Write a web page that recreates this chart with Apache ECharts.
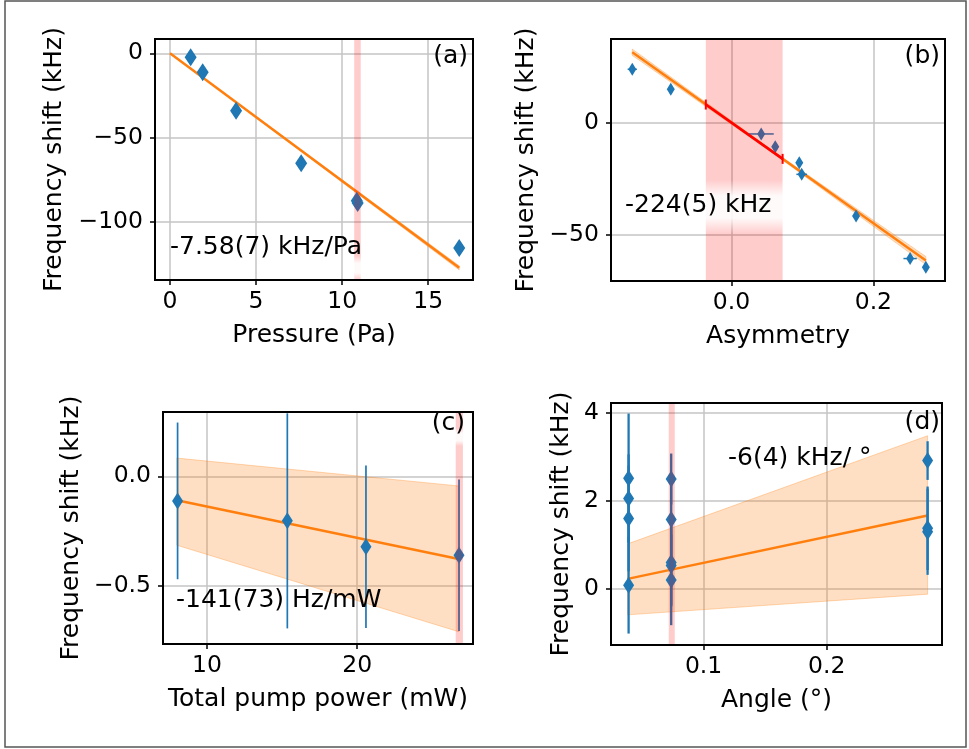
<!DOCTYPE html>
<html>
<head>
<meta charset="utf-8">
<script src="https://cdn.jsdelivr.net/npm/echarts@6/dist/echarts.min.js"></script>
<style>
html, body { margin: 0; padding: 0; background: #fff; }
#chart { width: 969px; height: 749px; }
</style>
</head>
<body>
<div id="chart"></div>
<script>
// ---- panel (a): pressure ----
const aX = [1.2, 1.9, 3.84, 7.62, 10.85, 10.9, 16.8]
const aY = [-2.4, -11.3, -34.0, -65.2, -87.5, -88.8, -115.5]
const aFitX = [0, 16.8]
const aFitY = [0, -127.3]
const aBandHi = [0, -126.1]
const aBandLo = [0, -128.5]
const aSpan = [10.7, 11.08]
const aXTicks = [0, 5, 10, 15]
const aYTicks = [-100, -50, 0]

// ---- panel (b): asymmetry ----
const bX = [-0.140, -0.0857, 0.0418, 0.0616, 0.0955, 0.0989, 0.1756, 0.2518, 0.274]
const bY = [23.8, 14.9, -5.0, -10.7, -17.8, -23.0, -41.5, -60.5, -64.4]
const bXErr = [0.0065, 0.004, 0.0177, 0.002, 0.002, 0.0075, 0.004, 0.0094, 0.002]
const bFitX = [-0.14, 0.06, 0.274]
const bFitY = [31.4, -13.4, -61.4]
const bBandHi = [32.8, -12.9, -59.6]
const bBandLo = [30.0, -13.9, -63.2]
const bRedX = [-0.0363, 0.072]
const bRedY = [8.1, -16.1]
const bSpan = [-0.0363, 0.072]
const bXTicks = [0, 0.2]
const bYTicks = [-50, 0]

// ---- panel (c): pump power ----
const cX = [8.05, 15.35, 20.58, 26.77]
const cY = [-0.112, -0.203, -0.321, -0.36]
const cErr = [0.357, 0.49, 0.37, 0.345]
const cFitX = [8.0, 26.75]
const cFitY = [-0.109, -0.377]
const cBandHi = [0.083, -0.044]
const cBandLo = [-0.314, -0.708]
const cSpan = [26.55, 27.03]
const cXTicks = [10, 20]
const cYTicks = [-0.5, 0]

// ---- panel (d): angle ----
const dX = [0.0391, 0.0391, 0.0391, 0.0391, 0.0737, 0.0737, 0.0737, 0.0737, 0.0737, 0.282, 0.282, 0.282]
const dY = [2.52, 2.06, 1.60, 0.084, 2.50, 1.58, 0.60, 0.53, 0.205, 2.92, 1.38, 1.30]
const dErr = [1.47, 1.0, 1.2, 1.1, 0.58, 1.0, 1.0, 0.9, 1.03, 0.44, 0.95, 0.98]
const dFitX = [0.0383, 0.282]
const dFitY = [0.228, 1.67]
const dBandHi = [1.025, 3.485]
const dBandLo = [-0.59, -0.12]
const dSpan = [0.0717, 0.0766]
const dXTicks = [0.1, 0.2]
const dYTicks = [0, 2, 4]

const FONT = '"DejaVu Sans", sans-serif'
const BLUE = '#1f77b4'
const ORANGE = '#ff7f0e'

const GRIDS = [
  { left: 155, top: 39, width: 318, height: 241 },
  { left: 611, top: 39, width: 334, height: 242 },
  { left: 163, top: 412, width: 310, height: 232 },
  { left: 611, top: 403, width: 331, height: 242 }
]

function fmt(dec) {
  return v => (v < -1e-9 ? '\u2212' : '') + Math.abs(v).toFixed(dec)
}

function makeAxis(i, dir, min, max, step, ticks, dec, name, gap) {
  return {
    type: 'value',
    gridIndex: i,
    min, max,
    minInterval: step,
    maxInterval: step,
    name,
    nameLocation: 'middle',
    nameGap: gap,
    nameRotate: dir === 'y' ? 90 : 0,
    nameTextStyle: { fontFamily: FONT, fontSize: 25, color: '#000' },
    axisLine: { show: false, onZero: false },
    axisTick: { show: true, length: 5, customValues: ticks, lineStyle: { color: '#000', width: 1.5 } },
    axisLabel: {
      customValues: ticks,
      formatter: fmt(dec),
      margin: dir === 'y' ? 12 : 10,
      fontFamily: FONT, fontSize: 23.5, color: '#000'
    },
    splitLine: { show: true, lineStyle: { color: '#c4c4c4', width: 1.5 } }
  }
}

const xAxes = [
  makeAxis(0, 'x', -0.87, 17.6, 5, aXTicks, 0, 'Pressure (Pa)', 43),
  makeAxis(1, 'x', -0.170, 0.301, 0.2, bXTicks, 1, 'Asymmetry', 43),
  makeAxis(2, 'x', 7.08, 27.70, 10, cXTicks, 0, 'Total pump power (mW)', 43),
  makeAxis(3, 'x', 0.0248, 0.2937, 0.1, dXTicks, 1, 'Angle (°)', 43)
]
const yAxes = [
  makeAxis(0, 'y', -134.5, 8.5, 50, aYTicks, 0, 'Frequency shift (kHz)', 88),
  makeAxis(1, 'y', -70.5, 37.3, 50, bYTicks, 0, 'Frequency shift (kHz)', 72),
  makeAxis(2, 'y', -0.764, 0.293, 0.5, cYTicks, 1, 'Frequency shift (kHz)', 79),
  makeAxis(3, 'y', -1.276, 4.23, 2, dYTicks, 0, 'Frequency shift (kHz)', 37)
]

function band(i, xs, hi, lo) {
  return {
    type: 'custom', xAxisIndex: i, yAxisIndex: i, z: 1, silent: true,
    data: [[xs[0], hi[0]]],
    renderItem: (params, api) => {
      const top = xs.map((x, k) => api.coord([x, hi[k]]))
      const bot = xs.map((x, k) => api.coord([x, lo[k]])).reverse()
      return {
        type: 'polygon',
        shape: { points: top.concat(bot) },
        style: { fill: 'rgba(255,127,14,0.25)', stroke: 'rgba(255,127,14,0.3)', lineWidth: 1 }
      }
    }
  }
}

function fitLine(i, xs, ys, color, z) {
  return {
    type: 'line', xAxisIndex: i, yAxisIndex: i, z, silent: true,
    data: xs.map((x, k) => [x, ys[k]]),
    showSymbol: false, symbol: 'none',
    lineStyle: { color, width: 2.5 },
    animation: false
  }
}

function vErr(i, xs, ys, errs, width) {
  return {
    type: 'custom', xAxisIndex: i, yAxisIndex: i, z: 3, silent: true,
    data: xs.map((x, k) => [x, ys[k] - errs[k], ys[k] + errs[k]]),
    renderItem: (params, api) => {
      const p0 = api.coord([api.value(0), api.value(1)])
      const p1 = api.coord([api.value(0), api.value(2)])
      return { type: 'line', shape: { x1: p0[0], y1: p0[1], x2: p1[0], y2: p1[1] }, style: { stroke: BLUE, lineWidth: width } }
    }
  }
}

function hErr(i, xs, ys, errs) {
  return {
    type: 'custom', xAxisIndex: i, yAxisIndex: i, z: 3, silent: true,
    data: xs.map((x, k) => [x - errs[k], ys[k], x + errs[k]]),
    renderItem: (params, api) => {
      const p0 = api.coord([api.value(0), api.value(1)])
      const p1 = api.coord([api.value(2), api.value(1)])
      return { type: 'line', shape: { x1: p0[0], y1: p0[1], x2: p1[0], y2: p1[1] }, style: { stroke: BLUE, lineWidth: 1.5 } }
    }
  }
}

function points(i, xs, ys, size) {
  return {
    type: 'scatter', xAxisIndex: i, yAxisIndex: i, z: 4, silent: true,
    symbol: 'diamond', symbolSize: size,
    itemStyle: { color: BLUE, opacity: 1 },
    data: xs.map((x, k) => [x, ys[k]])
  }
}

function span(i, s) {
  return {
    type: 'custom', xAxisIndex: i, yAxisIndex: i, z: 5, silent: true,
    data: [[s[0], s[1]]],
    renderItem: (params, api) => {
      const cs = params.coordSys
      const p0 = api.coord([api.value(0), 0])
      const p1 = api.coord([api.value(1), 0])
      return { type: 'rect', shape: { x: p0[0], y: cs.y, width: p1[0] - p0[0], height: cs.height }, style: { fill: 'rgba(255,0,0,0.2)' } }
    }
  }
}

const series = [
  band(0, aFitX, aBandHi, aBandLo),
  fitLine(0, aFitX, aFitY, ORANGE, 2),
  points(0, aX, aY, [12, 18]),
  span(0, aSpan),

  band(1, bFitX, bBandHi, bBandLo),
  fitLine(1, bFitX, bFitY, ORANGE, 2),
  hErr(1, bX, bY, bXErr),
  points(1, bX, bY, [8, 13]),
  span(1, bSpan),
  {
    type: 'line', xAxisIndex: 1, yAxisIndex: 1, z: 6, silent: true,
    data: bRedX.map((x, k) => [x, bRedY[k]]),
    symbol: 'rect', symbolSize: [2, 10], showSymbol: true,
    itemStyle: { color: '#ff0000' },
    lineStyle: { color: '#ff0000', width: 2.5 },
    animation: false
  },

  band(2, cFitX, cBandHi, cBandLo),
  fitLine(2, cFitX, cFitY, ORANGE, 2),
  vErr(2, cX, cY, cErr, 1.7),
  points(2, cX, cY, [11, 17]),
  span(2, cSpan),

  band(3, dFitX, dBandHi, dBandLo),
  fitLine(3, dFitX, dFitY, ORANGE, 2),
  vErr(3, dX, dY, dErr, 2.3),
  points(3, dX, dY, [11, 17]),
  span(3, dSpan)
]

function txt(x, y, text, align) {
  return {
    type: 'text', z: 30, silent: true,
    style: {
      x, y, text, fill: '#000',
      font: '25px ' + FONT,
      align, textAlign: align,
      verticalAlign: 'middle', textVerticalAlign: 'middle'
    }
  }
}

function whiteFade(x, y, w, h) {
  return {
    type: 'rect', z: 25, silent: true,
    shape: { x, y, width: w, height: h },
    style: {
      fill: new echarts.graphic.LinearGradient(0, 0, 0, 1, [
        { offset: 0, color: 'rgba(255,255,255,0)' },
        { offset: 0.3, color: 'rgba(255,255,255,0.9)' },
        { offset: 0.7, color: 'rgba(255,255,255,0.9)' },
        { offset: 1, color: 'rgba(255,255,255,0)' }
      ])
    }
  }
}

const graphic = [
  { type: 'rect', z: 0, silent: true, shape: { x: 5, y: 1, width: 961, height: 746 }, style: { fill: 'none', stroke: '#555', lineWidth: 1.5 } },
  whiteFade(345, 256, 25, 24),
  whiteFade(612, 180, 188, 54),
  whiteFade(450, 428, 20, 18),
  txt(468, 56, '(a)', 'right'),
  txt(940, 56, '(b)', 'right'),
  txt(465, 423, '(c)', 'right'),
  txt(940, 422, '(d)', 'right'),
  txt(170, 247, '-7.58(7) kHz/Pa', 'left'),
  txt(625, 205, '-224(5) kHz', 'left'),
  txt(176, 600, '-141(73) Hz/mW', 'left'),
  txt(728, 458, '-6(4) kHz/ °', 'left')
].concat(GRIDS.map(g => ({
  type: 'rect', z: 40, silent: true,
  shape: { x: g.left, y: g.top, width: g.width, height: g.height },
  style: { fill: 'none', stroke: '#000', lineWidth: 2 }
})))

const chart = echarts.init(document.getElementById('chart'), null, { renderer: 'canvas' })
chart.setOption({
  animation: false,
  backgroundColor: '#fff',
  grid: GRIDS.map(g => Object.assign({ containLabel: false }, g)),
  xAxis: xAxes,
  yAxis: yAxes,
  series,
  graphic
})
</script>
</body>
</html>
